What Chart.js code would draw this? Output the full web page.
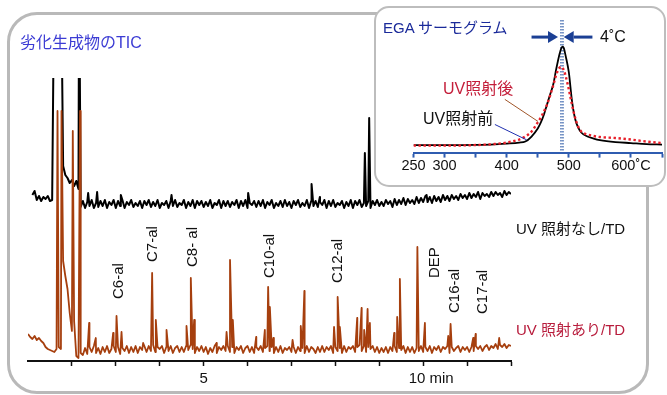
<!DOCTYPE html>
<html>
<head>
<meta charset="utf-8">
<script src="https://cdn.jsdelivr.net/npm/chart.js@4.4.1/dist/chart.umd.min.js"></script>
<style>
  html, body { margin: 0; padding: 0; background: #fff; }
  body {
    width: 667px; height: 395px; position: relative; overflow: hidden;
    font-family: "Liberation Sans", Arial, "Noto Sans CJK JP", sans-serif;
  }
  .box { position: absolute; box-sizing: border-box; }
  #mainBox { left: 7px; top: 12px; width: 642px; height: 382px; border: 3px solid #b9b9b9; border-radius: 30px; }
  #insetBox { left: 374px; top: 6px; width: 292px; height: 181px; border: 2px solid #bdbdbd; border-radius: 15px; background: #fff; }
  canvas { position: absolute; }
  #ticChart { left: 0; top: 0; }
  #egaChart { left: 375px; top: 7px; }
  .lbl { position: absolute; white-space: nowrap; }
</style>
</head>
<body>
<div class="box" id="mainBox"></div>
<canvas id="ticChart" width="667" height="395"></canvas>
<div class="box" id="insetBox"></div>
<canvas id="egaChart" width="290" height="180"></canvas>

<div class="lbl" style="left:20px; top:35px; font-size:16px; line-height:16px; color:#3c3cd4;">劣化生成物のTIC</div>
<div class="lbl" style="left:383px; top:20px; font-size:15px; line-height:15px; color:#1a2a9a;">EGA サーモグラム</div>
<div class="lbl" style="left:600px; top:29px; font-size:16px; line-height:16px; color:#111;">4˚C</div>
<div class="lbl" style="left:443px; top:81px; font-size:16px; line-height:16px; color:#c41e3a;">UV照射後</div>
<div class="lbl" style="left:423px; top:111px; font-size:16px; line-height:16px; color:#111;">UV照射前</div>
<div class="lbl" style="left:516px; top:221px; font-size:15px; line-height:15px; color:#111;">UV 照射なし/TD</div>
<div class="lbl" style="left:516px; top:322px; font-size:15px; line-height:15px; color:#b81c3c;">UV 照射あり/TD</div>

<script>
Chart.defaults.font.family = '"Liberation Sans", Arial, sans-serif';

// ---- TIC (retention time in min, intensity in arbitrary units) ----
const sampleStep = 0.05;

// UV 照射なし/TD (black)
const blackStart = 1.10;
const blackLevels = [
    166, 170, 161, 165, 160, 164, 162, 165, 160, 161,
    400, 400, 400, 400, 195, 186, 183, 178, 181, 175,
    180, 172, 154, 160, 153, 159, 155, 161, 153, 158,
    154, 160, 155, 161, 153, 159, 156, 161, 153, 160,
    155, 161, 153, 159, 156, 161, 154, 158, 155, 160,
    153, 160, 156, 161, 154, 159, 155, 161, 153, 158,
    156, 160, 153, 160, 155, 161, 154, 158, 156, 161,
    153, 159, 155, 161, 153, 160, 156, 160, 154, 159,
    155, 161, 153, 158, 156, 161, 153, 160, 155, 160,
    154, 159, 156, 161, 153, 160, 155, 161, 153, 158,
    156, 160, 154, 160, 155, 161, 153, 159, 156, 161,
    153, 158, 155, 160, 154, 161, 155, 159, 153, 160,
    156, 161, 154, 158, 155, 161, 153, 160, 155, 160,
    154, 159, 156, 161, 153, 160, 155, 161, 154, 158,
    156, 160, 153, 159, 155, 161, 153, 160, 156, 161,
    154, 158, 155, 160, 153, 160, 156, 161, 155, 159,
    155, 161, 157, 160, 154, 162, 156, 161, 157, 163,
    156, 162, 158, 161, 157, 164, 158, 163, 159, 165,
    159, 164, 158, 165, 160, 164, 159, 166, 161, 165,
    160, 166, 162, 165, 161, 167, 163, 166, 162, 168,
    163, 167, 164, 169, 162, 168, 165, 167, 164, 169,
    165, 169, 166, 168, 164, 170, 166, 169, 167
];
const blackPeaks = [
    [2.164, 400], [2.37, 168], [2.574, 169], [3.114, 166], [4.269, 166], [6.014, 168],
    [7.458, 177], [7.647, 164], [8.672, 208], [8.77, 243], [10.077, 166]
];

// UV 照射あり/TD (orange)
const orangeStart = 1.00;
const orangeLevels = [
    27, 24, 22, 25, 21, 23, 20, 18, 14, 12,
    11, 10, 9, 12, 14, 12, 100, 85, 72, 48,
    30, 40, 5, 3, 8, 6, 13, 7, 14, 9,
    15, 8, 13, 7, 14, 9, 15, 8, 12, 15,
    9, 14, 7, 13, 10, 15, 8, 14, 9, 15,
    8, 14, 11, 15, 9, 15, 10, 16, 9, 14,
    12, 15, 8, 14, 10, 15, 8, 13, 15, 9,
    14, 9, 15, 11, 16, 12, 8, 14, 10, 15,
    9, 14, 7, 13, 9, 15, 8, 14, 11, 15,
    10, 15, 9, 14, 8, 14, 11, 15, 8, 13,
    15, 9, 14, 8, 14, 11, 15, 9, 13, 15,
    10, 14, 8, 14, 9, 15, 8, 13, 11, 14,
    9, 14, 8, 14, 10, 13, 8, 15, 9, 14,
    12, 8, 14, 9, 15, 9, 14, 11, 15, 8,
    14, 10, 13, 8, 15, 9, 14, 12, 15, 9,
    14, 16, 10, 15, 9, 14, 12, 15, 9, 14,
    8, 13, 9, 14, 8, 14, 10, 15, 9, 13,
    11, 15, 8, 14, 9, 14, 8, 13, 10, 15,
    9, 14, 10, 15, 8, 14, 11, 15, 9, 14,
    12, 15, 8, 14, 10, 13, 15, 9, 14, 11,
    14, 9, 14, 10, 15, 12, 15, 10, 14, 16,
    11, 15, 13, 17, 12, 16, 14, 17, 13, 16,
    15
];
const orangePeaks = [
    [1.672, 250], [1.763, 250], [2.02, 230], [2.185, 250],
    [2.392, 38], [2.544, 23], [2.939, 28], [3.016, 45], [3.13, 29], [3.622, 18],
    [3.827, 88], [3.911, 41], [4.155, 31], [4.61, 35], [4.708, 83], [4.784, 41],
    [5.294, 18], [5.522, 29], [5.601, 101], [5.665, 41], [6.196, 24], [6.394, 31],
    [6.469, 74], [6.508, 54], [6.588, 23], [7.025, 21], [7.212, 35], [7.294, 70],
    [7.97, 34], [8.052, 64], [8.102, 34], [8.497, 43], [8.597, 53], [8.656, 31],
    [8.734, 52], [8.786, 38], [9.339, 28], [9.408, 44], [9.469, 82], [9.868, 114],
    [10.039, 38], [10.57, 25], [10.624, 37], [11.139, 23], [11.194, 27], [11.731, 23]
];

// peak labels (name, retention time, level where the text starts)
const peakNames = ["C6-al", "C7-al", "C8- al", "C10-al", "C12-al", "DEP", "C16-al", "C17-al"];
const peakTimes = [3.064, 3.843, 4.754, 6.508, 8.068, 10.255, 10.722, 11.36];
const peakLabelLevels = [62, 99, 94, 83, 78, 83, 48, 47];

const timeMin = 1;
const timeMax = 12;
const timeTickLabels = { 5: "5" };
const timeUnitLabel = "10 min";
const timeUnitAt = 10;

function buildTrace(start, levels, peaks) {
    const pts = levels.map((v, i) => ({ x: +(start + i * sampleStep).toFixed(3), y: v }));
    peaks.forEach(p => pts.push({ x: p[0], y: p[1] }));
    pts.sort((a, b) => a.x - b.x);
    return pts;
}

const ticLabels = {
    id: "ticLabels",
    afterDraw(chart) {
        const { ctx, chartArea, scales: { x, y } } = chart;
        ctx.save();
        ctx.font = '15px "Liberation Sans", Arial, sans-serif';
        ctx.fillStyle = "#111";
        ctx.textBaseline = "middle";
        ctx.textAlign = "left";
        peakNames.forEach((name, i) => {
            ctx.save();
            ctx.translate(x.getPixelForValue(peakTimes[i]), y.getPixelForValue(peakLabelLevels[i]));
            ctx.rotate(-Math.PI / 2);
            ctx.fillText(name, 0, 0);
            ctx.restore();
        });
        // "10 min" sits a little right of its tick
        ctx.fillText(timeUnitLabel, x.getPixelForValue(timeUnitAt) - 14.5, chartArea.bottom + 18);
        ctx.restore();
    }
};

new Chart(document.getElementById("ticChart"), {
    type: "line",
    data: {
        datasets: [{
            label: "UV 照射あり/TD",
            data: buildTrace(orangeStart, orangeLevels, orangePeaks),
            borderColor: "#a63f0e",
            borderWidth: 1.8,
            borderJoinStyle: "round",
            pointRadius: 0,
            tension: 0
        }, {
            label: "UV 照射なし/TD",
            data: buildTrace(blackStart, blackLevels, blackPeaks),
            borderColor: "#000",
            borderWidth: 2,
            borderJoinStyle: "round",
            pointRadius: 0,
            tension: 0
        }]
    },
    options: {
        responsive: false,
        animation: false,
        layout: { padding: { left: 28, right: 156, top: 78, bottom: 8 } },
        plugins: { legend: { display: false }, tooltip: { enabled: false } },
        scales: {
            x: {
                type: "linear",
                min: timeMin,
                max: timeMax,
                afterFit: (axis) => { axis.height = 26; },
                grid: {
                    drawOnChartArea: false,
                    tickLength: 5,
                    tickWidth: 1.5,
                    tickColor: (c) => (c.tick && c.tick.value === timeMin ? "rgba(0,0,0,0)" : "#111")
                },
                border: { display: true, color: "#111", width: 2 },
                ticks: {
                    stepSize: 1,
                    autoSkip: false,
                    maxRotation: 0,
                    padding: 4,
                    color: "#111",
                    font: { size: 15 },
                    callback: (v) => timeTickLabels[v] || ""
                }
            },
            y: { display: false, min: 0, max: 283 }
        }
    },
    plugins: [ticLabels]
});

// ---- EGA thermogram (temperature in °C, signal in arbitrary units) ----
const egaTemps = [250, 300, 350, 380, 400, 420, 430, 440, 450, 455, 460, 465, 470, 475, 480, 485,
                  488, 490, 492, 495, 500, 505, 510, 515, 520, 530, 540, 550, 575, 600, 625, 650];
const egaBefore = [7.5, 7.5, 7.7, 8.2, 9, 10, 11, 16, 24, 30, 38, 48, 58, 68, 84, 98,
                   104, 105.5, 104, 96, 80, 52, 34, 25, 20, 16, 14, 12.5, 10.5, 9.5, 8.5, 8];
const egaAfter = [7, 7, 7.5, 8.5, 10, 13, 16, 21, 30, 35, 41, 48, 57, 67, 78, 84.5,
                  85.5, 84, 82, 76, 63, 48, 35, 26, 21, 18, 16.5, 15.5, 14.5, 13, 11, 9.5];
const peakMarkTemps = [487.4, 490.6];
const egaTickLabels = { 250: "250", 300: "300", 400: "400", 500: "500", 600: "600˚C" };

// arrows pointing at the two peak tops, and leader lines from the labels
const arrowLevel = 115;
const arrowFrom = [440, 538];
const arrowTo = [482.6, 491.8];
const leaderAfter = [[397, 53], [450.5, 31]];
const leaderBefore = [[381, 28], [432, 12.7]];

const egaMarks = {
    id: "egaMarks",
    afterDatasetsDraw(chart) {
        const { ctx, scales: { x, y } } = chart;
        ctx.save();
        const navy = "#1b3f94";
        ctx.strokeStyle = navy;
        ctx.fillStyle = navy;
        const py = y.getPixelForValue(arrowLevel);
        arrowFrom.forEach((from, i) => {
            const x0 = x.getPixelForValue(from);
            const x1 = x.getPixelForValue(arrowTo[i]);
            const dir = Math.sign(x1 - x0);
            const head = 10;
            ctx.lineWidth = 3;
            ctx.beginPath();
            ctx.moveTo(x0, py);
            ctx.lineTo(x1 - dir * head, py);
            ctx.stroke();
            ctx.beginPath();
            ctx.moveTo(x1, py);
            ctx.lineTo(x1 - dir * head, py - 6);
            ctx.lineTo(x1 - dir * head, py + 6);
            ctx.closePath();
            ctx.fill();
        });
        ctx.lineWidth = 1;
        [[leaderAfter, "#a0562a"], [leaderBefore, "#2030b0"]].forEach(([pts, col]) => {
            ctx.strokeStyle = col;
            ctx.beginPath();
            ctx.moveTo(x.getPixelForValue(pts[0][0]), y.getPixelForValue(pts[0][1]));
            ctx.lineTo(x.getPixelForValue(pts[1][0]), y.getPixelForValue(pts[1][1]));
            ctx.stroke();
        });
        ctx.restore();
    }
};

new Chart(document.getElementById("egaChart"), {
    type: "line",
    data: {
        datasets: [{
            label: "UV照射後",
            data: egaTemps.map((t, i) => ({ x: t, y: egaAfter[i] })),
            borderColor: "#e8202a",
            borderWidth: 2.4,
            borderDash: [2.4, 2.6],
            pointRadius: 0,
            cubicInterpolationMode: "monotone"
        }, {
            label: "UV照射前",
            data: egaTemps.map((t, i) => ({ x: t, y: egaBefore[i] })),
            borderColor: "#000",
            borderWidth: 1.8,
            pointRadius: 0,
            cubicInterpolationMode: "monotone"
        }].concat(peakMarkTemps.map(t => ({
            data: [{ x: t, y: 2 }, { x: t, y: 132 }],
            borderColor: "#1f4fa0",
            borderWidth: 1.2,
            borderDash: [1.5, 1.5],
            pointRadius: 0
        })))
    },
    options: {
        responsive: false,
        animation: false,
        layout: { padding: { left: 38.5, right: 3, top: 13, bottom: 12 } },
        plugins: { legend: { display: false }, tooltip: { enabled: false } },
        scales: {
            x: {
                type: "linear",
                min: 250,
                max: 650,
                grid: { drawOnChartArea: false, tickLength: 5, tickWidth: 2, tickColor: "#2f5cb0" },
                border: { display: true, color: "#2f5cb0", width: 2 },
                ticks: {
                    stepSize: 50,
                    autoSkip: false,
                    maxRotation: 0,
                    padding: 0,
                    color: "#111",
                    font: { size: 14.5 },
                    callback: (v) => egaTickLabels[v] || ""
                }
            },
            y: { display: false, min: 0, max: 132 }
        }
    },
    plugins: [egaMarks]
});
</script>
</body>
</html>
